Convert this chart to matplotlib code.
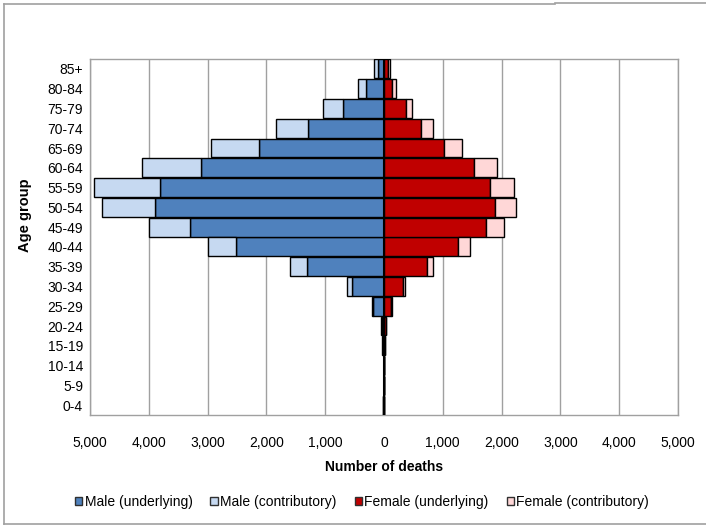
import matplotlib

matplotlib.use("Agg")
matplotlib.rcParams["font.family"] = ["Liberation Sans", "DejaVu Sans"]
import matplotlib.pyplot as plt
import numpy as np
from matplotlib.patches import Rectangle
from matplotlib.lines import Line2D

age_groups = ["0-4", "5-9", "10-14", "15-19", "20-24", "25-29", "30-34", "35-39",
              "40-44", "45-49", "50-54", "55-59", "60-64", "65-69", "70-74",
              "75-79", "80-84", "85+"]

male_underlying = [10, 3, 5, 25, 40, 180, 545, 1305, 2520, 3305, 3890, 3810,
                   3110, 2125, 1285, 690, 310, 100]
male_contributory = [3, 1, 2, 8, 12, 30, 90, 300, 470, 700, 910, 1115,
                     1000, 820, 545, 340, 135, 65]
female_underlying = [5, 2, 3, 15, 30, 115, 315, 735, 1260, 1740, 1895, 1810,
                     1535, 1025, 625, 375, 140, 75]
female_contributory = [2, 1, 1, 5, 8, 15, 40, 105, 210, 300, 350, 400,
                       380, 295, 215, 105, 60, 30]

series_labels = ["Male (underlying)", "Male (contributory)",
                 "Female (underlying)", "Female (contributory)"]
colors = ["#4F81BD", "#C6D9F1", "#C00000", "#FFD7D7"]

y = np.arange(len(age_groups))
mu = np.array(male_underlying)
mc = np.array(male_contributory)
fu = np.array(female_underlying)
fc = np.array(female_contributory)

W, H = 706, 527
fig = plt.figure(figsize=(W / 100, H / 100), dpi=100)
ax = fig.add_axes([90 / W, 1 - 415 / H, 588 / W, 356 / H])

bar_kw = dict(height=0.96, edgecolor="black", linewidth=1.0, zorder=3)
ax.barh(y, -mu, color=colors[0], **bar_kw)
ax.barh(y, -mc, left=-mu, color=colors[1], **bar_kw)
ax.barh(y, fu, color=colors[2], **bar_kw)
ax.barh(y, fc, left=fu, color=colors[3], **bar_kw)

ax.set_xlim(-5000, 5000)
ax.set_ylim(-0.5, len(age_groups) - 0.5)
xt = np.arange(-5000, 5001, 1000)
ax.set_xticks(xt)
ax.set_xticklabels([f"{abs(v):,}" for v in xt], fontsize=10)
ax.set_yticks(y)
ax.set_yticklabels(age_groups, fontsize=10)
ax.tick_params(axis="x", length=0, pad=15)
ax.tick_params(axis="y", length=0, pad=5)
ax.grid(axis="x", color="#A0A0A0", linewidth=1.0, zorder=0)
for s in ax.spines.values():
    s.set_color("#A0A0A0")
    s.set_linewidth(1.0)
ax.axvline(0, color="black", linewidth=1.5, zorder=4)

fig.text(384 / W, 1 - 467 / H, "Number of deaths", fontsize=10, fontweight="bold",
         ha="center", va="center")
fig.text(25 / W, 1 - 215 / H, "Age group", fontsize=10.5, fontweight="bold",
         ha="center", va="center", rotation=90)

handles = [Rectangle((0, 0), 1, 1, facecolor=c, edgecolor="#303030", linewidth=1.0)
           for c in colors]
fig.legend(handles, series_labels, loc="center", bbox_to_anchor=(362 / W, 1 - 502 / H),
           ncol=4, frameon=False, fontsize=10, handlelength=0.55, handleheight=0.55,
           handletextpad=0.15, columnspacing=1.3, borderpad=0)

# chart-area border
border = dict(color="#A0A0A0", linewidth=1.2, transform=fig.transFigure)
fig.add_artist(Line2D([4 / W, 4 / W], [1 - 524 / H, 1 - 4 / H], **border))
fig.add_artist(Line2D([4 / W, 555 / W], [1 - 4 / H, 1 - 4 / H], **border))
fig.add_artist(Line2D([555 / W, 1], [1 - 2.5 / H, 1 - 2.5 / H], **border))
fig.add_artist(Line2D([4 / W, 1], [1 - 524 / H, 1 - 524 / H], **border))

fig.savefig("out.png", dpi=100)
